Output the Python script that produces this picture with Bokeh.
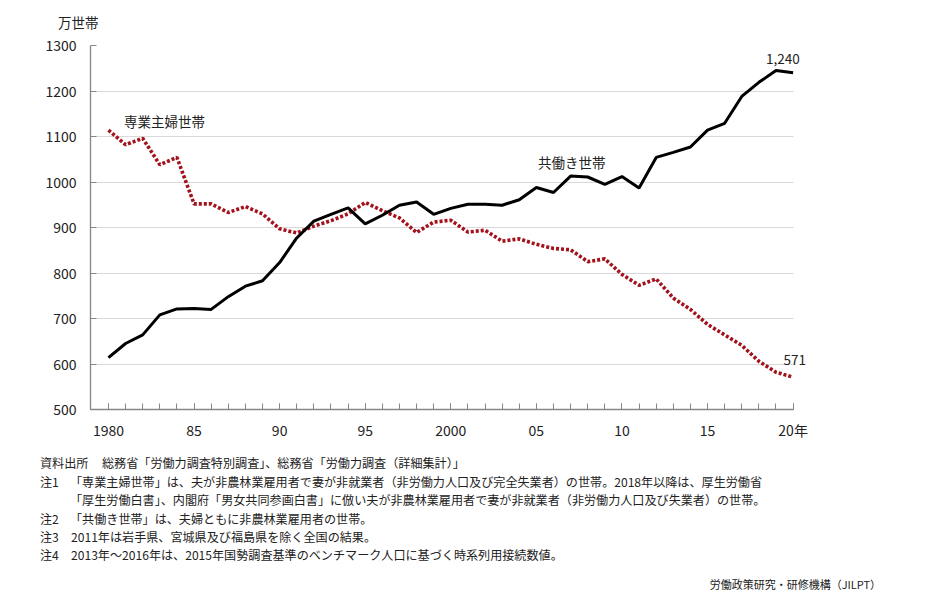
from bokeh.plotting import figure
from bokeh.models import Range1d, FixedTicker, Label, ColumnDataSource, Div
from bokeh.layouts import column
from bokeh.embed import file_html
from bokeh.resources import INLINE

years = list(range(1980, 2021))
dual_income = [614, 645, 664, 708, 721, 722, 720, 748, 771, 783,
               823, 877, 914, 929, 943, 908, 927, 949, 956, 929,
               942, 951, 951, 949, 961, 988, 977, 1013, 1011, 995,
               1012, 987, 1054, 1065, 1077, 1114, 1129, 1188, 1219, 1245,
               1240]
housewife = [1114, 1082, 1096, 1038, 1054, 952, 952, 933, 946, 930,
             897, 888, 903, 915, 930, 955, 937, 921, 889, 912,
             916, 890, 894, 870, 875, 863, 854, 851, 825, 831,
             797, 773, 787, 745, 720, 687, 664, 641, 606, 582,
             571]
x_ticks = [1980, 1985, 1990, 1995, 2000, 2005, 2010, 2015, 2020]
x_tick_labels = ["1980", "85", "90", "95", "2000", "05", "10", "15", "20年"]
y_ticks = [500, 600, 700, 800, 900, 1000, 1100, 1200, 1300]
unit_label = "万世帯"

note_heads = ["資料出所", "注1", "", "注2", "注3", "注4"]
note_bodies = [
    "総務省「労働力調査特別調査」、総務省「労働力調査（詳細集計）」",
    "「専業主婦世帯」は、夫が非農林業雇用者で妻が非就業者（非労働力人口及び完全失業者）の世帯。2018年以降は、厚生労働省",
    "「厚生労働白書」、内閣府「男女共同参画白書」に倣い夫が非農林業雇用者で妻が非就業者（非労働力人口及び失業者）の世帯。",
    "「共働き世帯」は、夫婦ともに非農林業雇用者の世帯。",
    "2011年は岩手県、宮城県及び福島県を除く全国の結果。",
    "2013年～2016年は、2015年国勢調査基準のベンチマーク人口に基づく時系列用接続数値。",
]
source_credit = "労働政策研究・研修機構（JILPT）"

FONT = "Noto Sans CJK JP"
TXT = "#222222"
W = 921

# ---- unit label above the chart
top_div = Div(text=(f'<div style="position:relative;width:{W}px;height:30px;">'
                    f'<span style="position:absolute;left:58px;top:13px;'
                    f'font-family:\'{FONT}\';font-size:13.5px;line-height:18px;'
                    f'color:{TXT};white-space:nowrap;">{unit_label}</span></div>'),
              width=W, height=30, margin=(0, 0, 0, 0))

# ---- chart
p = figure(width=W, height=420, output_backend="svg", toolbar_location=None,
           x_range=Range1d(1978.95, 2021.6), y_range=Range1d(500, 1300),
           min_border_left=90, min_border_top=15, min_border_right=101,
           min_border_bottom=41, margin=(0, 0, 0, 0))
p.outline_line_color = None
p.background_fill_color = "white"
p.border_fill_color = "white"

src = ColumnDataSource(dict(year=years, dual=dual_income, hw=housewife))
p.line("year", "hw", source=src, line_color="#a3111b", line_width=3.6,
       line_dash="3 2")
p.line("year", "dual", source=src, line_color="black", line_width=3)

p.xaxis.ticker = FixedTicker(ticks=x_ticks, minor_ticks=years)
p.xaxis.major_label_overrides = {t: l for t, l in zip(x_ticks, x_tick_labels)}
p.xaxis.bounds = (1978.95, 2020.05)
p.yaxis.ticker = FixedTicker(ticks=y_ticks)
for ax in (p.xaxis, p.yaxis):
    ax.axis_line_color = "#868686"
    ax.axis_line_width = 1.3
    ax.major_tick_line_color = "#868686"
    ax.minor_tick_line_color = "#868686"
    ax.major_tick_in = 6
    ax.major_tick_out = 0
    ax.minor_tick_in = 6
    ax.minor_tick_out = 0
    ax.major_label_text_font = FONT
    ax.major_label_text_font_size = "14px"
    ax.major_label_text_color = TXT
p.yaxis.minor_tick_line_color = None
p.xaxis.major_label_standoff = 10
p.yaxis.major_label_standoff = 14
p.xgrid.grid_line_color = None
p.ygrid.grid_line_color = "#d9d9d9"
p.ygrid.grid_line_width = 1.2
p.ygrid.ticker = FixedTicker(ticks=y_ticks)
p.ygrid.cross_bounds = (1978.95, 2020.05)

# series labels
p.add_layout(Label(x=1980.9, y=1133, text="専業主婦世帯", text_font=FONT,
                   text_font_size="13.5px", text_baseline="middle", text_color=TXT))
p.add_layout(Label(x=2005.1, y=1044, text="共働き世帯", text_font=FONT,
                   text_font_size="13.5px", text_baseline="middle", text_color=TXT))
p.add_layout(Label(x=2019.4, y=1271, text="1,240", text_font=FONT,
                   text_font_size="13.5px", text_baseline="middle", text_align="center",
                   text_color=TXT))
p.add_layout(Label(x=2020.1, y=609, text="571", text_font=FONT,
                   text_font_size="13.5px", text_baseline="middle", text_align="center",
                   text_color=TXT))

# ---- notes below the chart (div top at page y=450)
note_y = [463, 482, 500, 519, 537, 555]
body_x = [102, 70, 70, 70, 71, 71]
spans = []
style = (f"font-family:'{FONT}';font-size:12.1px;line-height:18px;"
         f"color:{TXT};white-space:nowrap;")
for head, body, ny, bx in zip(note_heads, note_bodies, note_y, body_x):
    top = ny - 450 - 9
    if head:
        spans.append(f'<span style="position:absolute;left:40px;top:{top}px;{style}">'
                     f'{head}</span>')
    spans.append(f'<span style="position:absolute;left:{bx}px;top:{top}px;{style}">'
                 f'{body}</span>')
spans.append(f'<span style="position:absolute;right:{W - 881}px;top:{584 - 450 - 8}px;'
             f'font-family:\'{FONT}\';font-size:11px;line-height:16px;'
             f'color:{TXT};white-space:nowrap;">{source_credit}</span>')
notes_div = Div(text=(f'<div style="position:relative;width:{W}px;height:137px;">'
                      + "".join(spans) + '</div>'),
                width=W, height=137, margin=(0, 0, 0, 0))

layout = column(top_div, p, notes_div, spacing=0)
open("out.html", "w").write(file_html(layout, INLINE))
